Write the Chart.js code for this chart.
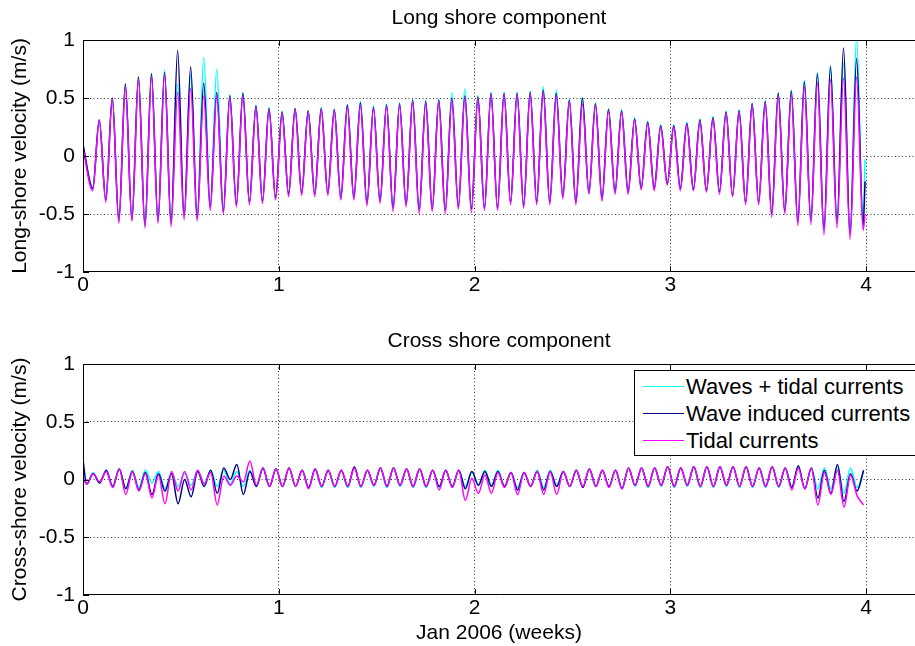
<!DOCTYPE html>
<html>
<head>
<meta charset="utf-8">
<script src="https://cdn.jsdelivr.net/npm/chart.js@4.4.0/dist/chart.umd.min.js"></script>
<style>
  body { margin: 0; background: #fff; }
  #wrap { position: relative; width: 915px; height: 646px; overflow: hidden; font-family: "Liberation Sans", Arial, sans-serif; }
  #longCanvas { position: absolute; left: 0; top: 0; }
  #crossCanvas { position: absolute; left: 0; top: 320px; }
  #legend { position: absolute; left: 634px; top: 370px; width: 300px; height: 86px; border: 1px solid #000; background: #fff; box-sizing: border-box; }
  .row { position: absolute; left: 0; height: 27px; line-height: 27px; font-size: 22px; white-space: nowrap; color: #000; }
  .row i { position: absolute; left: 8px; top: 13px; width: 41px; height: 0; border-top: 1.5px solid; }
  .row span { position: absolute; left: 51px; }
</style>
</head>
<body>
<div id="wrap">
  <canvas id="longCanvas" width="915" height="320"></canvas>
  <canvas id="crossCanvas" width="915" height="326"></canvas>
  <div id="legend"></div>
</div>
<script>
// axis ticks
const weekTicks = [0, 1, 2, 3, 4];
const velocityTicks = [-1, -0.5, 0, 0.5, 1];

const seriesNames = ['Waves + tidal currents', 'Wave induced currents', 'Tidal currents'];
const seriesColors = ['#00ffff', '#000080', '#ff00ff'];

// turning points of the tide (weeks): first one and spacing between crest and trough
const halfTide = 0.03335;
const longFirstTurn = 0.0497;
const crossFirstTurn = 0.0187;
const longLastSample = 3.995;

// Long shore velocity (m/s): start, first trough, then crest/trough pairs, end
const longWaveTidal = [0.08, -0.27,
  .31,-.37,.50,-.55,.61,-.54,.68,-.59,.71,-.55,.74,-.57,.62,-.50,.70,-.52,.85,-.42,.75,-.46,
  .53,-.41,.55,-.39,.44,-.38,.42,-.35,.39,-.32,.41,-.31,.39,-.32,.42,-.31,.40,-.35,.44,-.35,
  .47,-.40,.43,-.38,.45,-.44,.46,-.41,.49,-.46,.48,-.45,.49,-.46,.55,-.43,.58,-.45,.52,-.44,
  .55,-.44,.55,-.39,.55,-.42,.56,-.39,.60,-.39,.57,-.34,.49,-.39,.50,-.31,.46,-.36,.41,-.30,
  .40,-.30,.33,-.27,.30,-.27,.27,-.23,.27,-.27,.29,-.28,.32,-.29,.34,-.30,.39,-.33,.40,-.39,
  .46,-.39,.48,-.49,.55,-.47,.57,-.56,.65,-.55,.72,-.63,.78,-.57,.80,-.66,1.02,-.58,
  -.03];
const longWaveOnly = [0.10, -0.28,
  .31,-.38,.50,-.56,.62,-.55,.68,-.60,.71,-.56,.72,-.58,.91,-.52,.77,-.54,.63,-.44,.55,-.48,
  .52,-.42,.54,-.40,.43,-.39,.41,-.36,.38,-.33,.41,-.32,.39,-.33,.41,-.32,.40,-.36,.44,-.36,
  .46,-.41,.42,-.39,.44,-.45,.45,-.42,.48,-.47,.47,-.46,.48,-.47,.50,-.44,.52,-.46,.51,-.45,
  .54,-.45,.54,-.40,.54,-.43,.55,-.40,.57,-.40,.54,-.35,.48,-.40,.50,-.32,.45,-.37,.40,-.31,
  .39,-.31,.32,-.28,.29,-.28,.26,-.24,.26,-.28,.28,-.29,.31,-.30,.33,-.31,.38,-.34,.39,-.40,
  .45,-.40,.47,-.50,.54,-.48,.56,-.57,.64,-.56,.71,-.64,.77,-.58,.93,-.68,.84,-.60,
  -.22];
const longTidal = [0.06, -0.30,
  .31,-.40,.50,-.58,.60,-.56,.66,-.62,.68,-.58,.70,-.61,.55,-.55,.58,-.56,.52,-.47,.52,-.50,
  .50,-.44,.52,-.42,.42,-.41,.40,-.38,.37,-.35,.40,-.34,.38,-.35,.40,-.34,.39,-.38,.42,-.38,
  .44,-.43,.41,-.41,.43,-.48,.44,-.44,.47,-.50,.46,-.48,.47,-.50,.49,-.46,.50,-.49,.50,-.47,
  .53,-.47,.53,-.42,.53,-.45,.54,-.42,.55,-.42,.52,-.37,.47,-.42,.45,-.33,.44,-.39,.39,-.33,
  .38,-.33,.31,-.29,.28,-.30,.25,-.25,.25,-.30,.27,-.30,.30,-.31,.32,-.33,.37,-.35,.38,-.42,
  .44,-.42,.46,-.53,.52,-.50,.53,-.60,.60,-.59,.63,-.68,.66,-.62,.67,-.72,.68,-.64,
  -.50];

// Cross shore velocity (m/s): start, first trough, then crest/trough pairs, last crest
const crossWaveTidal = [0.05, -0.04,
  .06,-.03,.08,-.06,.09,-.08,.08,-.07,.08,-.03,.07,-.08,.06,-.06,.05,-.05,.08,-.03,.08,-.06,
  .08,-.04,.07,-.06,.08,-.06,.09,-.06,.09,-.06,.10,-.06,.08,-.07,.09,-.07,.08,-.07,.08,-.07,
  .10,-.07,.08,-.06,.10,-.07,.10,-.06,.09,-.07,.09,-.07,.08,-.07,.08,-.07,.08,-.06,.07,-.05,
  .08,-.05,.08,-.06,.06,-.07,.06,-.06,.08,-.07,.08,-.05,.07,-.06,.08,-.06,.09,-.06,.08,-.06,
  .08,-.07,.10,-.06,.10,-.07,.10,-.06,.11,-.07,.10,-.06,.11,-.07,.11,-.07,.11,-.06,.11,-.07,
  .11,-.07,.10,-.07,.11,-.07,.10,-.06,.10,-.08,.10,-.08,.10,-.08,.11,-.12,.10,-.07,
  .06];
const crossWaveOnly = [0.17, -0.04,
  .05,-.03,.08,-.06,.09,-.08,.07,-.09,.06,-.13,.05,-.10,.05,-.21,.00,-.15,.07,-.06,.08,-.12,
  .10,.00,.13,-.13,.07,-.06,.10,-.06,.09,-.06,.10,-.06,.08,-.07,.09,-.06,.08,-.06,.08,-.06,
  .11,-.06,.08,-.05,.10,-.06,.10,-.05,.09,-.06,.09,-.06,.08,-.06,.08,-.06,.08,-.08,.07,-.05,
  .07,-.06,.07,-.06,.06,-.09,.06,-.06,.07,-.09,.07,-.06,.07,-.06,.08,-.07,.09,-.06,.08,-.06,
  .08,-.08,.10,-.05,.10,-.06,.10,-.05,.11,-.06,.10,-.05,.11,-.06,.11,-.06,.11,-.05,.11,-.06,
  .11,-.06,.10,-.06,.11,-.06,.10,-.07,.12,-.08,.10,-.16,.08,-.12,.13,-.19,.05,-.10,
  .08];
const crossTidal = [0.02, -0.04,
  .05,-.02,.07,-.07,.09,-.13,.07,-.10,.05,-.16,.04,-.21,.07,-.10,.07,-.09,.08,-.04,.06,-.22,
  .03,-.05,.03,-.02,.16,-.05,.10,-.06,.09,-.06,.10,-.06,.08,-.08,.09,-.06,.08,-.06,.08,-.06,
  .10,-.06,.08,-.05,.10,-.06,.10,-.05,.09,-.06,.09,-.06,.08,-.09,.08,-.07,.08,-.18,.01,-.12,
  .04,-.12,.06,-.07,.06,-.13,.06,-.06,.07,-.13,.07,-.13,.07,-.06,.08,-.06,.09,-.06,.08,-.07,
  .08,-.08,.10,-.05,.10,-.06,.10,-.05,.11,-.06,.10,-.05,.11,-.06,.11,-.06,.11,-.05,.11,-.06,
  .11,-.06,.10,-.06,.11,-.06,.10,-.09,.10,-.08,.10,-.22,.06,-.13,.08,-.24,.04,-.14,
  -.22];

// sample times: t=0, then the turning points
function turnTimes(firstTurn, count) {
  let times = [0];
  for (let i = 0; i < count; i++) times.push(+(firstTurn + i * halfTide).toFixed(4));
  return times;
}
let longTimes = turnTimes(longFirstTurn, longTidal.length - 2);
longTimes.push(longLastSample);
let crossTimes = turnTimes(crossFirstTurn, crossTidal.length - 1);

const FONT = '"Liberation Sans", Arial, sans-serif';

// box round the axes with small inward ticks, like matlab
const axesBox = {
    id: 'axesBox',
    afterDraw(chart) {
        let { ctx, chartArea: a, scales } = chart;
        ctx.save();
        ctx.strokeStyle = '#000';
        ctx.lineWidth = 1;
        ctx.beginPath();
        ctx.moveTo(a.right, a.top + 0.5);
        ctx.lineTo(a.left + 0.5, a.top + 0.5);
        ctx.lineTo(a.left + 0.5, a.bottom - 0.5);
        ctx.lineTo(a.right, a.bottom - 0.5);
        weekTicks.forEach(v => {
            let px = Math.round(scales.x.getPixelForValue(v)) + 0.5;
            ctx.moveTo(px, a.bottom); ctx.lineTo(px, a.bottom - 6);
            ctx.moveTo(px, a.top); ctx.lineTo(px, a.top + 6);
        });
        velocityTicks.forEach(v => {
            let py = Math.round(scales.y.getPixelForValue(v)) + 0.5;
            ctx.moveTo(a.left, py); ctx.lineTo(a.left + 6, py);
        });
        ctx.stroke();
        ctx.restore();
    }
};

function makePanel(canvas, title, titlePad, yLabel, xLabel, xAxisHeight, times, series) {
    // magenta on top, then navy, cyan underneath
    let datasets = series.map((values, i) => ({
        label: seriesNames[i],
        data: values.map((v, j) => ({ x: times[j], y: v })),
        borderColor: seriesColors[i],
        borderWidth: 1.5,
        pointRadius: 0,
        cubicInterpolationMode: 'monotone',
        order: 2 - i
    }));

    let gridColor = (edge) => (ctx) => edge.includes(ctx.tick.value) ? 'rgba(0,0,0,0)' : 'rgba(0,0,0,0.8)';

    return new Chart(canvas, {
        type: 'line',
        data: { datasets },
        plugins: [axesBox],
        options: {
            responsive: false,
            devicePixelRatio: 1,
            animation: false,
            events: [],
            layout: { padding: 0 },
            plugins: {
                legend: { display: false },
                tooltip: { enabled: false },
                title: {
                    display: true,
                    fullSize: false,
                    text: title,
                    color: '#000',
                    font: { family: FONT, size: 21, weight: 'normal' },
                    padding: titlePad
                }
            },
            scales: {
                x: {
                    type: 'linear',
                    min: 0,
                    max: 4.25,
                    afterBuildTicks: s => { s.ticks = weekTicks.map(v => ({ value: v })); },
                    afterFit: s => { s.height = xAxisHeight; },
                    ticks: { color: '#000', font: { family: FONT, size: 21 }, padding: 1, maxRotation: 0,
                             callback: v => String(v) },
                    grid: { color: gridColor([0]), lineWidth: 1, drawTicks: false, borderDash: [1, 2.5] },
                    border: { display: false, dash: [1, 2.5] },
                    title: {
                        display: !!xLabel,
                        text: xLabel,
                        color: '#000',
                        font: { family: FONT, size: 21 },
                        padding: 0
                    }
                },
                y: {
                    min: -1,
                    max: 1,
                    afterBuildTicks: s => { s.ticks = velocityTicks.map(v => ({ value: v })); },
                    afterFit: s => { s.width = 83; },
                    ticks: { color: '#000', font: { family: FONT, size: 21 }, padding: 8,
                             callback: v => String(v) },
                    grid: { color: gridColor([-1, 1]), lineWidth: 1, drawTicks: false, borderDash: [1, 2.5] },
                    border: { display: false, dash: [1, 2.5] },
                    title: {
                        display: true,
                        text: yLabel,
                        color: '#000',
                        font: { family: FONT, size: 21 },
                        padding: { top: 8, bottom: 0 }
                    }
                }
            }
        }
    });
}

makePanel(document.getElementById('longCanvas'), 'Long shore component', { top: 6, bottom: 8.8 },
    'Long-shore velocity (m/s)', '', 48, longTimes, [longWaveTidal, longWaveOnly, longTidal]);

makePanel(document.getElementById('crossCanvas'), 'Cross shore component', { top: 8.4, bottom: 10.4 },
    'Cross-shore velocity (m/s)', 'Jan 2006 (weeks)', 51, crossTimes, [crossWaveTidal, crossWaveOnly, crossTidal]);

// legend inside the lower axes
let legend = document.getElementById('legend');
seriesNames.forEach((name, i) => {
    let row = document.createElement('div');
    row.className = 'row';
    row.style.top = (2 + i * 27) + 'px';
    let line = document.createElement('i');
    line.style.borderColor = seriesColors[i];
    let text = document.createElement('span');
    text.textContent = name;
    row.appendChild(line);
    row.appendChild(text);
    legend.appendChild(row);
});
</script>
</body>
</html>
